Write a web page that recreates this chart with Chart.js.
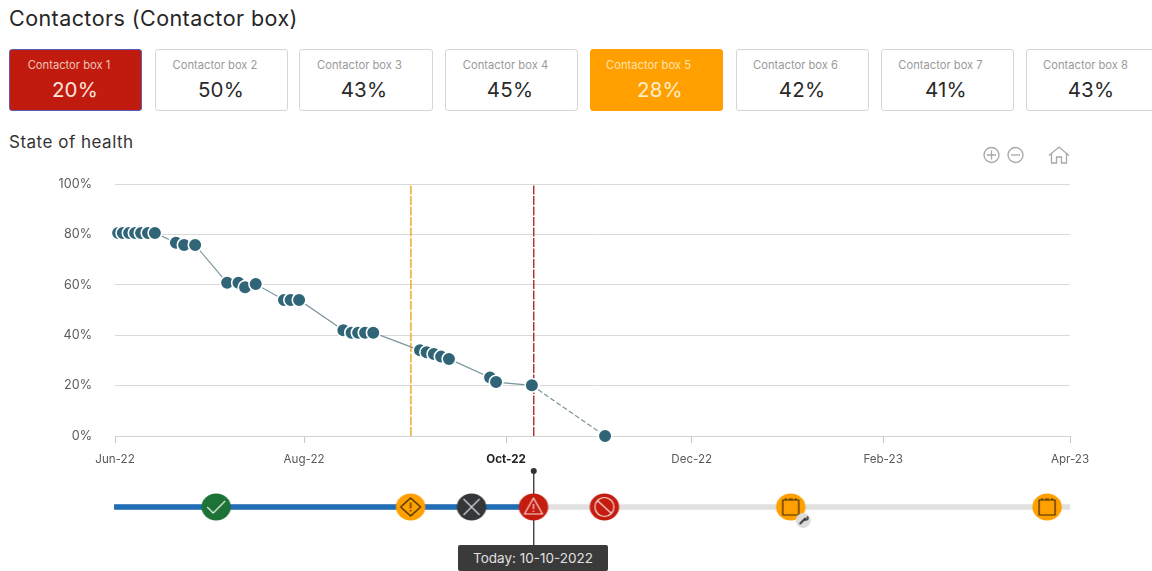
<!DOCTYPE html>
<html><head><meta charset="utf-8">
<script src="https://cdn.jsdelivr.net/npm/chart.js@4"></script>
<style>
html,body{margin:0;padding:0;background:#fff;width:1152px;height:571px;overflow:hidden;font-family:Inter,"Noto Sans",sans-serif;color:#222}
.abs{position:absolute}
#title{left:9px;top:6px;font-size:21.5px;line-height:24px;letter-spacing:.43px;color:#262626;white-space:nowrap}
#sub{left:9px;top:132px;font-size:17px;line-height:20px;letter-spacing:.5px;color:#333;white-space:nowrap}
.card{position:absolute;top:49px;height:60px;border:1px solid #d6d6d6;border-radius:3px;background:#fff;box-sizing:content-box}
.card .lab,.card .val{position:absolute;white-space:nowrap;transform:translateX(-50%)}
.card .lab{top:8px;font-size:11.2px;line-height:14px;color:#9a9a9a}
.card .val{top:28px;font-size:20.5px;line-height:24px;letter-spacing:.2px;color:#2a2a2a}
.card.red{background:#c01b0e;border:1px solid #5a5fb8;}
.card.red .lab{color:#f2c4b8}.card.red .val{color:#fbe4dc}
.card.amber{background:#ffa000;border-color:#ffa000}
.card.amber .lab{color:#ffe2ad}.card.amber .val{color:#ffeccb}
canvas{position:absolute;left:0}
#tip{left:458px;top:545px;width:150px;height:26px;background:#3a3a3a;border-radius:2px;color:#e0e0e0;font-size:13.5px;line-height:26px;text-align:center;white-space:nowrap}
</style></head>
<body>
<div id="title" class="abs">Contactors (Contactor box)</div>
<div id="cards"></div>
<div id="sub" class="abs">State of health</div>
<svg class="abs" style="left:980px;top:143px" width="92" height="24" fill="none" stroke="#a8a8a8" stroke-width="1.3">
<circle cx="11.5" cy="12" r="7.5"/><path d="M7 12h9M11.5 7.5v9"/>
<circle cx="35.5" cy="12" r="7.5"/><path d="M31 12h9"/>
<path d="M69 12.5l10-8.5 10 8.5M71.5 10.5v9.5h5v-6h5v6h5v-9.5"/>
</svg>
<canvas id="soh" width="1152" height="300" style="top:170px"></canvas>
<canvas id="line" width="1152" height="111" style="top:460px"></canvas>
<div id="tip" class="abs">Today: 10-10-2022</div>
<script>
// ---- data ----
const cardNames = ["Contactor box 1","Contactor box 2","Contactor box 3","Contactor box 4","Contactor box 5","Contactor box 6","Contactor box 7","Contactor box 8"];
const cardValues = ["20%","50%","43%","45%","28%","42%","41%","43%"];
const cardStates = ["red","","","","amber","","",""];
// x = days since 1 Jun 2022
const sohDays = [1,2.5,4.5,6.4,8.3,10.5,12.7,19.4,22,25.5,35.7,39.3,41.4,44.8,53.8,55.9,58.6,72.7,75.3,77.4,79.6,82.2,97.1,99.2,101.5,103.8,106.3,119.4,121.3,132.7,156];
const sohValues = [80.6,80.6,80.6,80.6,80.6,80.6,80.6,76.7,75.8,75.8,60.8,60.8,59,60.3,54,54,54,42,41,41,41,41,34,33.2,32.5,31.5,30.6,23.2,21.4,20.1,0];
const xTickDays = [0,60.2,124.5,183.6,244.5,304];
const xTickLabels = ["Jun-22","Aug-22","Oct-22","Dec-22","Feb-23","Apr-23"];
const warningDay = 94.2;
const todayDay = 133.3;
const eventDays = [32.2,94.1,113.5,133.2,155.8,215.1,296.7];
const eventKinds = ["ok","warn","stop","alert","ban","cal-service","cal"];

// ---- layout (not data) ----
const cardBoxes = [[9,133],[155,133],[299,134],[445,133],[590,133],[736,133],[881,133],[1026,140]];
const cardLabelCentres = [59,59,59.5,59.5,57.5,58.5,58.5,58.5];
const cardValueCentres = [65,65,64,64,69,65,64,64];
const cardsEl = document.getElementById('cards');
cardNames.forEach((n,i)=>{
  const d=document.createElement('div');
  d.className='card '+cardStates[i];
  d.style.left=cardBoxes[i][0]+'px'; d.style.width=(cardBoxes[i][1]-2)+'px';
  d.innerHTML='<div class="lab" style="left:'+cardLabelCentres[i]+'px">'+n+'</div><div class="val" style="left:'+cardValueCentres[i]+'px">'+cardValues[i]+'</div>';
  cardsEl.appendChild(d);
});

const FONT='Inter, "Noto Sans", sans-serif';
const xScaleBase={type:'linear',min:0,max:304};

new Chart(document.getElementById('soh'),{
  type:'line',
  data:{datasets:[
    {label:'Warning',data:[{x:warningDay,y:0},{x:warningDay,y:100}],borderColor:'#e5a81a',borderWidth:1.4,borderDash:[9,1.5],pointRadius:0,order:3},
    {label:'Today',data:[{x:todayDay,y:0},{x:todayDay,y:100}],borderColor:'#b0262c',borderWidth:1.4,borderDash:[9,1.5],pointRadius:0,order:3},
    {label:'State of health',data:sohDays.map((d,i)=>({x:d,y:sohValues[i]})),
     borderColor:'#7a949b',borderWidth:1.2,tension:0,
     backgroundColor:'#2f6577',pointBackgroundColor:'#2f6577',pointBorderColor:'#ffffff',pointBorderWidth:1.6,pointRadius:6.8,pointHoverRadius:6.8,
     clip:false,order:1,
     segment:{borderDash:c=>c.p0DataIndex===sohDays.length-2?[5,2.5]:undefined}}
  ]},
  options:{
    responsive:false,animation:false,devicePixelRatio:1,
    layout:{autoPadding:false,padding:{top:14,right:82,left:0,bottom:0}},
    plugins:{legend:{display:false},tooltip:{enabled:false}},
    scales:{
      x:{...xScaleBase,
        afterBuildTicks:s=>{s.ticks=xTickDays.map(v=>({value:v}));},
        afterFit:s=>{s.height=34;s.paddingLeft=0;s.paddingRight=0;},
        border:{color:'#d4d4d4'},
        grid:{drawOnChartArea:false,drawTicks:true,tickLength:7,color:'#c4c4c4'},
        ticks:{autoSkip:false,maxRotation:0,minRotation:0,padding:10,color:c=>xTickLabels[c.index]==='Oct-22'?'#222':'#5a5a5a',
          font:c=>({family:FONT,size:11.6,weight:xTickLabels[c.index]==='Oct-22'?'700':'400'}),
          callback:(v,i)=>xTickLabels[i]}
      },
      y:{type:'linear',min:0,max:100,
        afterFit:s=>{s.width=115;s.paddingTop=0;s.paddingBottom=0;},
        border:{display:false},
        grid:{color:'#d9d9d9',drawTicks:false,lineWidth:1},
        ticks:{stepSize:20,padding:23,color:'#5a5a5a',font:{family:FONT,size:12.6},callback:v=>v+'%'}
      }
    }
  }
});

// ---- status icons ----
function icon(kind){
  const c=document.createElement('canvas');c.width=c.height=64;
  const g=c.getContext('2d');g.translate(32,32);
  const fill={ok:'#1d7236',warn:'#ffa000',stop:'#343638',alert:'#c51c10',ban:'#c51c10','cal-service':'#ffa000',cal:'#ffa000'}[kind];
  g.fillStyle=fill;g.beginPath();g.ellipse(0,0,14.7,13.4,0,0,Math.PI*2);g.fill();
  g.lineWidth=1.2;g.lineJoin='round';
  if(kind==='ok'){g.strokeStyle='#e8f3ea';g.beginPath();g.moveTo(-9,0);g.lineTo(-3,6);g.lineTo(9,-6);g.stroke();}
  if(kind==='warn'){g.strokeStyle='#3a2a00';g.beginPath();g.moveTo(0,-9);g.lineTo(10,0);g.lineTo(0,9);g.lineTo(-10,0);g.closePath();g.stroke();
    g.beginPath();g.moveTo(0,-4.5);g.lineTo(0,1.5);g.moveTo(0,3);g.lineTo(0,4.5);g.stroke();}
  if(kind==='stop'){g.strokeStyle='#d8d8d8';g.beginPath();g.moveTo(-8,-8);g.lineTo(8,8);g.moveTo(8,-8);g.lineTo(-8,8);g.stroke();}
  if(kind==='alert'){g.strokeStyle='#f6dcd8';g.beginPath();g.moveTo(0,-9);g.lineTo(9,7);g.lineTo(-9,7);g.closePath();g.stroke();
    g.beginPath();g.moveTo(0,-3);g.lineTo(0,2);g.moveTo(0,3.5);g.lineTo(0,5);g.stroke();}
  if(kind==='ban'){g.strokeStyle='#f6dcd8';g.beginPath();g.arc(0,0,9.5,0,Math.PI*2);g.moveTo(-7,-6.5);g.lineTo(7,6.5);g.stroke();}
  if(kind.startsWith('cal')){g.strokeStyle='#3a2a00';g.strokeRect(-8,-7,16,15);
    g.beginPath();g.moveTo(-5,-9);g.lineTo(-5,-7);g.moveTo(5,-9);g.lineTo(5,-7);g.moveTo(-2,-8);g.lineTo(2,-8);g.stroke();}
  if(kind==='cal-service'){
    g.fillStyle='#dcdcdc';g.beginPath();g.arc(12.5,13.5,7.5,0,Math.PI*2);g.fill();
    g.strokeStyle='#3a3a3a';g.lineWidth=2;g.lineCap='round';g.beginPath();g.moveTo(9.5,16.5);g.lineTo(14.5,11.5);g.stroke();
    g.lineWidth=1.6;g.beginPath();g.arc(15,11,2,-0.6,2.2);g.stroke();
  }
  return c;
}
const TRACK=47, PIN_TOP=11, PIN_BOTTOM=87;
new Chart(document.getElementById('line'),{
  type:'line',
  data:{datasets:[
    {label:'Events',data:eventDays.map(d=>({x:d,y:TRACK})),showLine:false,pointStyle:eventKinds.map(icon),pointRadius:14,clip:false,order:1},
    {label:'Today pin',data:[{x:todayDay,y:PIN_TOP},{x:todayDay,y:PIN_BOTTOM}],borderColor:'#333',borderWidth:1.3,
      pointRadius:[3,0],pointBackgroundColor:'#333',pointBorderWidth:0,clip:false,order:2},
    {label:'Elapsed',data:[{x:-0.3,y:TRACK},{x:todayDay,y:TRACK}],borderColor:'#1f6db4',borderWidth:5.5,pointRadius:0,clip:false,order:3},
    {label:'Track',data:[{x:-0.3,y:TRACK},{x:304,y:TRACK}],borderColor:'#e0e0e0',borderWidth:5.5,pointRadius:0,clip:false,order:4}
  ]},
  options:{
    responsive:false,animation:false,devicePixelRatio:1,
    layout:{autoPadding:false,padding:{left:115,right:82,top:0,bottom:0}},
    plugins:{legend:{display:false},tooltip:{enabled:false}},
    scales:{
      x:{...xScaleBase,display:false},
      y:{type:'linear',min:0,max:111,reverse:true,display:false}
    }
  }
});
</script>
</body></html>
